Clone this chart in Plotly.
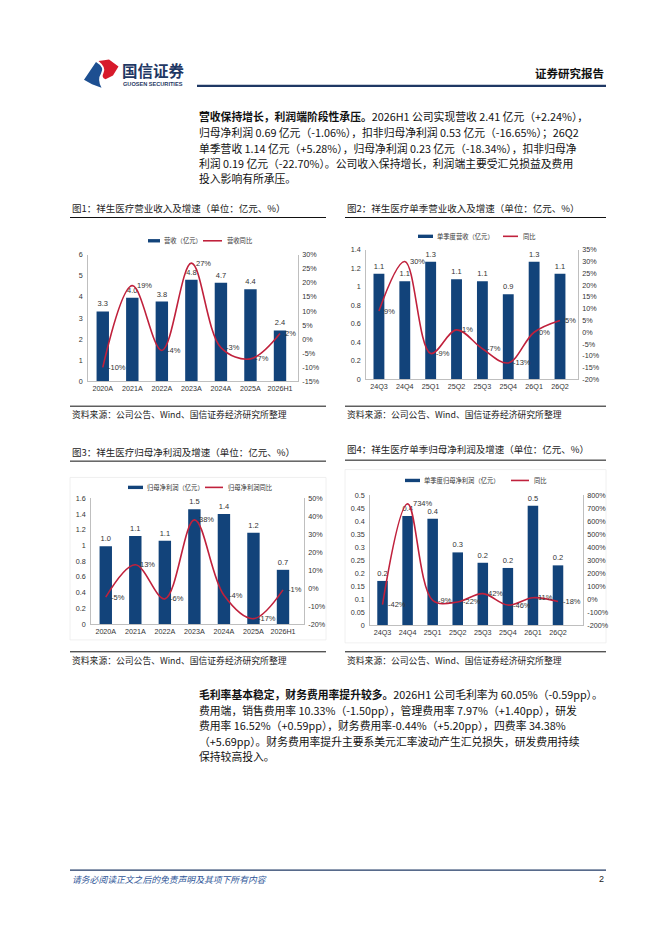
import plotly.graph_objects as go

W, H = 662, 936


def X(p):
    return p / W


def Y(p):
    return 1 - p / H


# ---------------- data ----------------
cats_year = ["2020A", "2021A", "2022A", "2023A", "2024A", "2025A", "2026H1"]
cats_q = ["24Q3", "24Q4", "25Q1", "25Q2", "25Q3", "25Q4", "26Q1", "26Q2"]

rev_year = [3.31, 3.96, 3.78, 4.81, 4.67, 4.36, 2.41]
rev_year_yoy = [-10, 19, -4, 27, -3, -7, 2]

rev_q = [1.14, 1.06, 1.27, 1.08, 1.06, 0.92, 1.27, 1.14]
rev_q_yoy = [9, 30, -9, 1, -7, -13, 0, 5]

np_year = [0.99, 1.12, 1.06, 1.46, 1.40, 1.16, 0.69]
np_year_yoy = [-5, 13, -6, 38, -4, -17, -1]

np_q = [0.17, 0.42, 0.41, 0.28, 0.24, 0.22, 0.46, 0.23]
np_q_yoy = [-42, 734, -9, -22, 42, -46, 11, -18]

ticks_l1 = [0, 1, 2, 3, 4, 5, 6]
ticks_l1_txt = ["0", "1", "2", "3", "4", "5", "6"]
ticks_r1 = [-15, -10, -5, 0, 5, 10, 15, 20, 25, 30]

ticks_l2 = [0, 0.2, 0.4, 0.6, 0.8, 1.0, 1.2, 1.4]
ticks_l2_txt = ["0", "0.2", "0.4", "0.6", "0.8", "1", "1.2", "1.4"]
ticks_r2 = [-20, -15, -10, -5, 0, 5, 10, 15, 20, 25, 30, 35]

ticks_l3 = [0, 0.2, 0.4, 0.6, 0.8, 1.0, 1.2, 1.4, 1.6]
ticks_l3_txt = ["0", "0.2", "0.4", "0.6", "0.8", "1", "1.2", "1.4", "1.6"]
ticks_r3 = [-20, -10, 0, 10, 20, 30, 40, 50]

ticks_l4 = [0, 0.05, 0.1, 0.15, 0.2, 0.25, 0.3, 0.35, 0.4, 0.45, 0.5]
ticks_l4_txt = ["0", "0.05", "0.1", "0.15", "0.2", "0.25", "0.3", "0.35", "0.4", "0.45", "0.5"]
ticks_r4 = [-200, -100, 0, 100, 200, 300, 400, 500, 600, 700, 800]

titles = [
    "图1：祥生医疗营业收入及增速（单位：亿元、%）",
    "图2：祥生医疗单季营业收入及增速（单位：亿元、%）",
    "图3：祥生医疗归母净利润及增速（单位：亿元、%）",
    "图4：祥生医疗单季归母净利润及增速（单位：亿元、%）",
]
bar_names = ["营收（亿元）", "单季度营收（亿元）", "归母净利润（亿元）", "单季度归母净利润（亿元）"]
line_names = ["营收同比", "同比", "归母净利润同比", "同比"]
source_text = "资料来源：公司公告、Wind、国信证券经济研究所整理"

para1 = [
    "<b>营收保持增长，利润端阶段性承压。</b>2026H1 公司实现营收 2.41 亿元（+2.24%），",
    "归母净利润 0.69 亿元（-1.06%），扣非归母净利润 0.53 亿元（-16.65%）；26Q2",
    "单季营收 1.14 亿元（+5.28%），归母净利润 0.23 亿元（-18.34%），扣非归母净",
    "利润 0.19 亿元（-22.70%）。公司收入保持增长，利润端主要受汇兑损益及费用",
    "投入影响有所承压。",
]
para2 = [
    "<b>毛利率基本稳定，财务费用率提升较多。</b>2026H1 公司毛利率为 60.05%（-0.59pp）。",
    "费用端，销售费用率 10.33%（-1.50pp），管理费用率 7.97%（+1.40pp），研发",
    "费用率 16.52%（+0.59pp），财务费用率-0.44%（+5.20pp），四费率 34.38%",
    "（+5.69pp）。财务费用率提升主要系美元汇率波动产生汇兑损失，研发费用持续",
    "保持较高投入。",
]

# ---------------- styles ----------------
BAR = "#12437a"
RED = "#c0213c"
NAVY = "#1f3864"
CJK = "Noto Sans CJK SC"
LAT = "Liberation Sans, Arial"
AX = "#bfbfbf"

charts = [
    dict(cats=cats_year, bars=rev_year, yoy=rev_year_yoy, xd=(80, 290), yd=(245, 373),
         lr=[0, 6], lt=ticks_l1, ltt=ticks_l1_txt, rr=[-15, 30], rt=ticks_r1,
         leg_y=231, leg=(140, 152, 154, 195, 214, 217)),
    dict(cats=cats_q, bars=rev_q, yoy=rev_q_yoy, xd=(358, 570), yd=(240, 371),
         lr=[0, 1.4], lt=ticks_l2, ltt=ticks_l2_txt, rr=[-20, 35], rt=ticks_r2,
         leg_y=226.5, leg=(410, 425, 427, 495, 510, 513)),
    dict(cats=cats_year, bars=np_year, yoy=np_year_yoy, xd=(83, 296), yd=(491, 618),
         lr=[0, 1.6], lt=ticks_l3, ltt=ticks_l3_txt, rr=[-20, 50], rt=ticks_r3,
         leg_y=480, leg=(120, 135, 137, 197, 215, 218)),
    dict(cats=cats_q, bars=np_q, yoy=np_q_yoy, xd=(362, 575), yd=(488, 619),
         lr=[0, 0.5], lt=ticks_l4, ltt=ticks_l4_txt, rr=[-200, 800], rt=ticks_r4,
         leg_y=473, leg=(397, 412, 414, 503, 521, 524)),
]

fig = go.Figure()
layout = {}
shapes = []
annots = []

for i, c in enumerate(charts, start=1):
    xname = "x" if i == 1 else f"x{i}"
    yl = "y" if i == 1 else f"y{2 * i - 1}"
    yr = f"y{2 * i}"
    xkey = "xaxis" if i == 1 else f"xaxis{i}"
    ylkey = "yaxis" if i == 1 else f"yaxis{2 * i - 1}"
    yrkey = f"yaxis{2 * i}"

    fig.add_trace(go.Bar(
        x=c["cats"], y=c["bars"], xaxis=xname, yaxis=yl, marker_color=BAR,
        marker_line_width=0,
        text=[f"{v:.1f}" for v in c["bars"]], textposition="outside",
        textfont=dict(size=7.5, color="#333", family=LAT), cliponaxis=False,
        showlegend=False, hoverinfo="skip"))
    fig.add_trace(go.Scatter(
        x=c["cats"], y=c["yoy"], xaxis=xname, yaxis=yr, mode="lines",
        line=dict(color=RED, width=1.6, shape="spline", smoothing=1.0),
        cliponaxis=False, showlegend=False, hoverinfo="skip"))
    # growth labels to the right of each point
    for cat, v in zip(c["cats"], c["yoy"]):
        annots.append(dict(x=cat, y=v, xref=xname, yref=yr, xanchor="left",
                           yanchor="middle", xshift=3, showarrow=False,
                           text=f"{v:.0f}%",
                           font=dict(size=7.5, color="#333", family=LAT)))

    x0, x1 = c["xd"]
    yt, yb = c["yd"]
    layout[xkey] = dict(domain=[X(x0), X(x1)], anchor=yl, type="category",
                        showline=True, linecolor=AX, linewidth=0.8, ticks="",
                        tickfont=dict(size=7.2, color="#333", family=LAT),
                        showgrid=False, zeroline=False, fixedrange=True)
    layout[ylkey] = dict(domain=[Y(yb), Y(yt)], anchor=xname, range=c["lr"],
                         tickvals=c["lt"], ticktext=c["ltt"], showline=True,
                         linecolor=AX, linewidth=0.8, ticks="", showgrid=False,
                         zeroline=False, ticklabelstandoff=3,
                         tickfont=dict(size=7.2, color="#333", family=LAT))
    layout[yrkey] = dict(domain=[Y(yb), Y(yt)], anchor=xname, overlaying=yl,
                         side="right", range=c["rr"], tickvals=c["rt"],
                         ticktext=[f"{v}%" for v in c["rt"]], showline=True,
                         linecolor=AX, linewidth=0.8, ticks="", showgrid=False,
                         zeroline=False, ticklabelstandoff=2,
                         tickfont=dict(size=7.2, color="#333", family=LAT))

    # manual legend
    b0, b1, bt, l0, l1, lt = c["leg"]
    ly = c["leg_y"]
    shapes.append(dict(type="rect", xref="paper", yref="paper", x0=X(b0), x1=X(b1),
                       y0=Y(ly + 1.7), y1=Y(ly - 1.7), fillcolor=BAR, line_width=0))
    shapes.append(dict(type="line", xref="paper", yref="paper", x0=X(l0), x1=X(l1),
                       y0=Y(ly), y1=Y(ly), line=dict(color=RED, width=1.6)))
    annots.append(dict(x=X(bt), y=Y(ly), xref="paper", yref="paper", xanchor="left",
                       yanchor="middle", showarrow=False, text=bar_names[i - 1],
                       font=dict(size=6.3, color="#333", family=CJK)))
    annots.append(dict(x=X(lt), y=Y(ly), xref="paper", yref="paper", xanchor="left",
                       yanchor="middle", showarrow=False, text=line_names[i - 1],
                       font=dict(size=6.3, color="#333", family=CJK)))

# titles, rules and sources
title_pos = [(62, 197.5, 207.5, 318), (337, 197.5, 207.5, 598),
             (62, 444.5, 453.5, 318), (337, 441, 452.5, 598)]
src_pos = [(62, 398, 406, 318), (337, 398, 406, 598), (62, 646, 654.5, 318), (337, 646, 654.5, 598)]
for k in range(4):
    tx, ty, ry, rx = title_pos[k]
    annots.append(dict(x=X(tx), y=Y(ty), xref="paper", yref="paper", xanchor="left",
                       yanchor="middle", showarrow=False, text=titles[k],
                       font=dict(size=9.5, color="#222", family=CJK)))
    shapes.append(dict(type="line", xref="paper", yref="paper", x0=X(tx), x1=X(rx),
                       y0=Y(ry), y1=Y(ry), line=dict(color="#111", width=1)))
    sx, sly, sty, srx = src_pos[k]
    shapes.append(dict(type="line", xref="paper", yref="paper", x0=X(sx), x1=X(srx),
                       y0=Y(sly), y1=Y(sly), line=dict(color="#111", width=1)))
    annots.append(dict(x=X(sx), y=Y(sty), xref="paper", yref="paper", xanchor="left",
                       yanchor="middle", showarrow=False, text=source_text,
                       font=dict(size=8.8, color="#222", family=CJK)))

# faint frames for charts 3 and 4
for (fx0, fy0, fx1, fy1) in [(62, 470, 318, 634), (337, 462, 598, 637)]:
    shapes.append(dict(type="rect", xref="paper", yref="paper", x0=X(fx0), x1=X(fx1),
                       y0=Y(fy1), y1=Y(fy0), line=dict(color="#ececec", width=0.8),
                       fillcolor="rgba(0,0,0,0)", layer="below"))


# header
def path(cmds):
    out = []
    for cmd in cmds:
        letter, pts = cmd[0], cmd[1:]
        coords = " ".join(f"{X(a):.5f},{Y(b):.5f}" for a, b in pts)
        out.append(f"{letter}{coords}")
    return " ".join(out) + " Z"


shapes.append(dict(type="path", xref="paper", yref="paper", line_width=0,
                   fillcolor="#1d4f91",
                   path=path([("M", (76, 68.5)), ("L", (88, 50.5)),
                              ("Q", (97, 56), (93, 62)), ("Q", (89, 68), (93.5, 76.5)),
                              ("L", (84, 73))])))
shapes.append(dict(type="path", xref="paper", yref="paper", line_width=0,
                   fillcolor="#d71a2b",
                   path=path([("M", (90.5, 49.5)), ("L", (96, 48.8)), ("L", (101, 48)),
                              ("L", (110.5, 55)), ("L", (105, 64)), ("L", (97.5, 68)),
                              ("Q", (93, 66), (95.5, 61.5)), ("Q", (98.5, 56), (90.5, 49.5))])))
annots.append(dict(x=X(112), y=Y(58.5), xref="paper", yref="paper", xanchor="left",
                   yanchor="middle", showarrow=False, text="<b>国信证券</b>",
                   font=dict(size=15.5, color=NAVY, family=CJK)))
annots.append(dict(x=X(112.5), y=Y(72.3), xref="paper", yref="paper", xanchor="left",
                   yanchor="middle", showarrow=False, text="<b>GUOSEN SECURITIES</b>",
                   font=dict(size=5.6, color=NAVY, family=LAT)))
annots.append(dict(x=X(598), y=Y(62), xref="paper", yref="paper", xanchor="right",
                   yanchor="middle", showarrow=False, text="<b>证券研究报告</b>",
                   font=dict(size=11.5, color="#111", family=CJK)))
shapes.append(dict(type="line", xref="paper", yref="paper", x0=X(189), x1=X(598),
                   y0=Y(74.5), y1=Y(74.5), line=dict(color=NAVY, width=2.2)))

# body paragraphs
for lines, ys in [(para1, [105, 121, 137, 152.5, 168]), (para2, [689, 705, 720, 736, 751])]:
    for t, yy in zip(lines, ys):
        annots.append(dict(x=X(189), y=Y(yy), xref="paper", yref="paper", xanchor="left",
                           yanchor="middle", showarrow=False, text=t,
                           font=dict(size=10.8, color="#111", family=CJK)))

# footer
shapes.append(dict(type="line", xref="paper", yref="paper", x0=X(62), x1=X(598),
                   y0=Y(866.5), y1=Y(866.5), line=dict(color=NAVY, width=1.2)))
annots.append(dict(x=X(62), y=Y(875.5), xref="paper", yref="paper", xanchor="left",
                   yanchor="middle", showarrow=False,
                   text="<i>请务必阅读正文之后的免责声明及其项下所有内容</i>",
                   font=dict(size=8.8, color="#2e5597", family=CJK)))
annots.append(dict(x=X(598), y=Y(875.5), xref="paper", yref="paper", xanchor="right",
                   yanchor="middle", showarrow=False, text="2",
                   font=dict(size=9, color="#222", family=LAT)))

fig.update_layout(
    width=W, height=H, margin=dict(l=0, r=0, t=0, b=0),
    paper_bgcolor="white", plot_bgcolor="rgba(0,0,0,0)",
    showlegend=False, bargap=0.58,
    shapes=shapes, annotations=annots, **layout)

fig.write_html("out.html")
